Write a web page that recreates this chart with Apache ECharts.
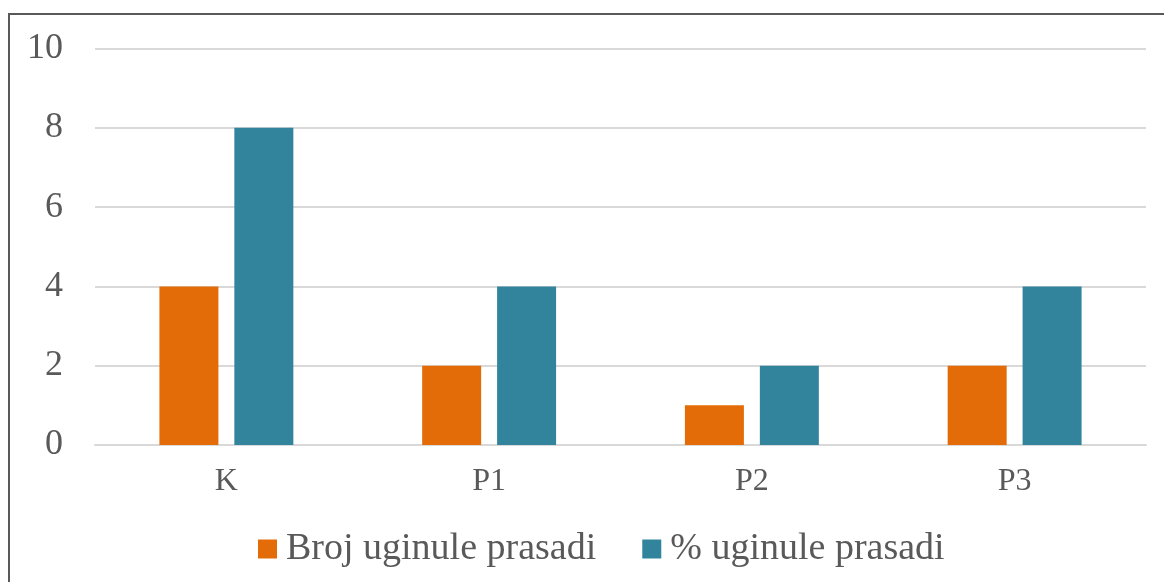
<!DOCTYPE html>
<html>
<head>
<meta charset="utf-8">
<script src="https://cdn.jsdelivr.net/npm/echarts@6/dist/echarts.min.js"></script>
<style>
  html, body { margin: 0; padding: 0; background: #fff; overflow: hidden; }
  #frame { position: absolute; left: 8px; top: 13px; width: 1200px; height: 620px; border: 2px solid #595959; box-sizing: border-box; }
  #chart { position: absolute; left: 0; top: 0; width: 1164px; height: 582px; }
</style>
</head>
<body>
<div id="frame"></div>
<div id="chart"></div>
<script>
// data
const categories = ['K', 'P1', 'P2', 'P3'];
const brojUginule = [4, 2, 1, 2];
const postoUginule = [8, 4, 2, 4];
const seriesNames = ['Broj uginule prasadi', '% uginule prasadi'];

const font = 'Liberation Serif';
const chart = echarts.init(document.getElementById('chart'));

chart.setOption({
  animation: false,
  textStyle: { fontFamily: font, color: '#595959' },
  grid: { left: 95, right: 18, top: 48.5, bottom: 137, containLabel: false },
  legend: {
    bottom: 9,
    left: 253,
    itemWidth: 19,
    itemHeight: 19,
    itemGap: 46,
    icon: 'rect',
    textStyle: { fontFamily: font, fontSize: 38, color: '#595959', padding: [0, 0, 0, 4] },
    data: seriesNames
  },
  xAxis: {
    type: 'category',
    data: categories,
    axisLine: { lineStyle: { color: '#d9d9d9', width: 2 } },
    axisTick: { show: false },
    axisLabel: { fontFamily: font, fontSize: 32, color: '#595959', margin: 21 }
  },
  yAxis: {
    type: 'value',
    min: 0,
    max: 10,
    interval: 2,
    axisLine: { show: false },
    axisTick: { show: false },
    splitLine: { lineStyle: { color: '#d9d9d9', width: 2 } },
    axisLabel: { fontFamily: font, fontSize: 36, color: '#595959', margin: 32 }
  },
  series: [
    {
      name: seriesNames[0],
      type: 'bar',
      data: brojUginule,
      barWidth: 59,
      barGap: '27%',
      itemStyle: { color: '#E36C09' }
    },
    {
      name: seriesNames[1],
      type: 'bar',
      data: postoUginule,
      barWidth: 59,
      itemStyle: { color: '#31849B' }
    }
  ]
});
</script>
</body>
</html>
